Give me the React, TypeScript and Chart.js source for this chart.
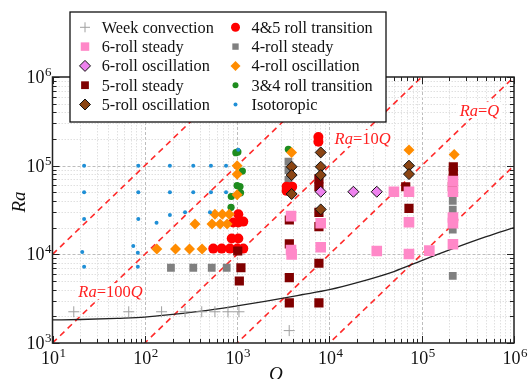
import React, { useEffect, useRef } from "react";
import { Chart, registerables } from "chart.js";

Chart.register(...registerables);

// ---------------- data ----------------
const weekQ = [17, 67, 152, 273, 414, 575, 796, 1047, 3670];
const weekRa = [2250, 2250, 2250, 2250, 2250, 2250, 2250, 2250, 1380];

const sixSteadyQ = [3840, 3840, 3900, 8050, 8050, 32600, 50000, 72800, 72800, 72800, 121000, 218000, 218000, 218000, 218000, 218000];
const sixSteadyRa = [27000, 11200, 10000, 22400, 12000, 10900, 50800, 50800, 23000, 10100, 11000, 67000, 51000, 26000, 22500, 13000];

const sixOscQ = [8050, 18200, 32600];
const sixOscRa = [50800, 50800, 50800];

const fiveSteadyQ = [1016, 1100, 1057, 3680, 3680, 3680, 3680, 7700, 7700, 7700, 7700, 7700, 7700, 67100, 72800, 220000, 220000, 220000, 215000];
const fiveSteadyRa = [10900, 7060, 5000, 24400, 13100, 5450, 2840, 71000, 57800, 29800, 20500, 7930, 2840, 57800, 33000, 97200, 84000, 72000, 58000];

const fiveOscQ = [3900, 3900, 3900, 8050, 8050, 8050, 8050, 72800, 72800];
const fiveOscRa = [97300, 78400, 47900, 141000, 97300, 78400, 32100, 100000, 80300];

const fourFiveQ = [552, 681, 838, 1005, 1167, 875, 1031, 908, 1031, 1167, 1031, 3440, 3950, 3440, 7600, 7600];
const fourFiveRa = [11600, 11600, 11600, 11600, 11600, 15100, 15100, 22900, 22900, 23400, 28300, 58000, 58000, 52000, 210000, 186000];

const fourSteadyQ = [192, 335, 531, 771, 3600, 3600, 3600, 217000, 217000, 217000, 217000, 217000];
const fourSteadyRa = [7060, 7060, 7060, 7060, 111000, 89000, 69000, 40000, 32000, 24400, 19000, 5700];

const fourOscQ = [135, 215, 305, 417, 350, 535, 655, 780, 575, 692, 822, 1000, 1000, 1000, 3890, 72800, 225000];
const fourOscRa = [11500, 11500, 11500, 11500, 22000, 22000, 22000, 22000, 28400, 28400, 28400, 100000, 80000, 47000, 141000, 150000, 134000];

const threeFourQ = [970, 1020, 1140, 1000, 1075, 865, 1090, 860, 3590];
const threeFourRa = [140000, 143000, 87000, 59700, 58200, 44900, 49400, 33900, 153000];

const isoQ = [22, 85, 187, 335, 521, 759, 22, 85, 187, 335, 521, 759, 22, 85, 134, 187, 273, 508, 75, 84, 21, 22, 84, 1030];
const isoRa = [100000, 100000, 100000, 100000, 100000, 100000, 50000, 50000, 50000, 50000, 50000, 50000, 25000, 25000, 22700, 27700, 29900, 29900, 12400, 10400, 10600, 7250, 7250, 151000];

const curveQ = [10, 20, 50, 100, 200, 500, 1000, 2000, 5000, 10000, 20000, 50000, 100000, 200000, 500000, 1000000];
const curveRa = [1820, 1840, 1900, 1960, 2100, 2350, 2620, 2950, 3500, 4000, 4800, 6400, 8500, 11200, 15800, 20000];

const refFactors = [1000, 100, 10, 1, 0.1];
const refLabelFactors = ["100", "10", ""];
const refLabelQ = [42.5, 22900, 423000];
const refLabelRa = [3850, 205000, 424000];

const xTickExponents = [1, 2, 3, 4, 5, 6];
const yTickExponents = [3, 4, 5, 6];
const minorMultipliers = [2, 3, 4, 5, 6, 7, 8, 9];

const X_MIN = 10, X_MAX = 1e6, Y_MIN = 1e3, Y_MAX = 1e6;

const FONT = '"Liberation Serif", "Times New Roman", serif';

type Series = {
  label: string; q: number[]; ra: number[];
  style: string; r: number; fill: string; stroke: string; lw: number; lr: number;
};

// first entry is drawn on top
const series: Series[] = [
  { label: "Isotoropic", q: isoQ, ra: isoRa, style: "circle", r: 2, fill: "#1f8fd6", stroke: "#1f8fd6", lw: 0, lr: 2 },
  { label: "6-roll oscillation", q: sixOscQ, ra: sixOscRa, style: "rectRot", r: 5.5, fill: "#ee82ee", stroke: "#111", lw: 1, lr: 5.5 },
  { label: "5-roll oscillation", q: fiveOscQ, ra: fiveOscRa, style: "rectRot", r: 5.5, fill: "#8b4513", stroke: "#111", lw: 1, lr: 5.5 },
  { label: "4-roll oscillation", q: fourOscQ, ra: fourOscRa, style: "rectRot", r: 5.5, fill: "#ff8c00", stroke: "#ff8c00", lw: 0, lr: 5 },
  { label: "3&4 roll transition", q: threeFourQ, ra: threeFourRa, style: "circle", r: 3.6, fill: "#1e8c1e", stroke: "#1e8c1e", lw: 0, lr: 3 },
  { label: "6-roll steady", q: sixSteadyQ, ra: sixSteadyRa, style: "rect", r: 7.5, fill: "#ff88c8", stroke: "#ff88c8", lw: 0, lr: 6 },
  { label: "5-roll steady", q: fiveSteadyQ, ra: fiveSteadyRa, style: "rect", r: 6.5, fill: "#800000", stroke: "#800000", lw: 0, lr: 5.5 },
  { label: "4&5 roll transition", q: fourFiveQ, ra: fourFiveRa, style: "circle", r: 5, fill: "#ff0000", stroke: "#ff0000", lw: 0, lr: 4.5 },
  { label: "4-roll steady", q: fourSteadyQ, ra: fourSteadyRa, style: "rect", r: 5.5, fill: "#808080", stroke: "#808080", lw: 0, lr: 4.5 },
  { label: "Week convection", q: weekQ, ra: weekRa, style: "cross", r: 5.5, fill: "#a0a0a0", stroke: "#a0a0a0", lw: 1, lr: 5 },
];

const legendCol1 = ["Week convection", "6-roll steady", "6-roll oscillation", "5-roll steady", "5-roll oscillation"];
const legendCol2 = ["4&5 roll transition", "4-roll steady", "4-roll oscillation", "3&4 roll transition", "Isotoropic"];

function drawMarker(ctx: CanvasRenderingContext2D, s: Series, x: number, y: number, r: number) {
  ctx.save();
  ctx.beginPath();
  if (s.style === "circle") ctx.arc(x, y, r, 0, Math.PI * 2);
  else if (s.style === "rect") {
    const h = r * Math.SQRT1_2;
    ctx.rect(x - h, y - h, 2 * h, 2 * h);
  } else if (s.style === "rectRot") {
    ctx.moveTo(x, y - r); ctx.lineTo(x + r, y); ctx.lineTo(x, y + r); ctx.lineTo(x - r, y); ctx.closePath();
  } else if (s.style === "cross") {
    ctx.moveTo(x - r, y); ctx.lineTo(x + r, y); ctx.moveTo(x, y - r); ctx.lineTo(x, y + r);
  }
  if (s.style !== "cross") { ctx.fillStyle = s.fill; ctx.fill(); }
  if (s.lw > 0) { ctx.strokeStyle = s.stroke; ctx.lineWidth = s.lw; ctx.stroke(); }
  ctx.restore();
}

function drawPow(ctx: CanvasRenderingContext2D, exp: number, x: number, baseY: number, align: "center" | "right") {
  ctx.font = `18px ${FONT}`;
  const w1 = ctx.measureText("10").width;
  ctx.font = `13px ${FONT}`;
  const w2 = ctx.measureText(String(exp)).width;
  const total = w1 + w2 + 0.5;
  const left = align === "center" ? x - total / 2 : x - total;
  ctx.textAlign = "left";
  ctx.textBaseline = "alphabetic";
  ctx.fillStyle = "#111";
  ctx.font = `18px ${FONT}`;
  ctx.fillText("10", left, baseY);
  ctx.font = `13px ${FONT}`;
  ctx.fillText(String(exp), left + w1 + 0.5, baseY - 7);
}

const gridPlugin = {
  id: "gridPlugin",
  beforeDatasetsDraw(chart: any) {
    const { ctx, chartArea: a, scales } = chart;
    const xs = scales.x, ys = scales.y;
    ctx.save();
    ctx.fillStyle = "#fff";
    ctx.fillRect(a.left, a.top, a.right - a.left, a.bottom - a.top);
    const line = (x1: number, y1: number, x2: number, y2: number, major: boolean) => {
      ctx.beginPath();
      ctx.setLineDash(major ? [3, 2] : [1.5, 1.5]);
      ctx.strokeStyle = major ? "#bdbdbd" : "#e0e0e0";
      ctx.lineWidth = 1;
      ctx.moveTo(x1, y1); ctx.lineTo(x2, y2); ctx.stroke();
    };
    xTickExponents.forEach((e) => {
      [1, ...minorMultipliers].forEach((m) => {
        const v = m * Math.pow(10, e);
        if (v <= X_MIN || v >= X_MAX) return;
        const px = Math.round(xs.getPixelForValue(v)) + 0.5;
        line(px, a.top, px, a.bottom, m === 1);
      });
    });
    yTickExponents.forEach((e) => {
      [1, ...minorMultipliers].forEach((m) => {
        const v = m * Math.pow(10, e);
        if (v <= Y_MIN || v >= Y_MAX) return;
        const py = Math.round(ys.getPixelForValue(v)) + 0.5;
        line(a.left, py, a.right, py, m === 1);
      });
    });
    ctx.restore();
  },
  afterDatasetsDraw(chart: any) {
    const { ctx, chartArea: a, scales } = chart;
    const xs = scales.x, ys = scales.y;
    ctx.save();
    ctx.setLineDash([]);

    // reference line labels
    refLabelQ.forEach((q, i) => {
      const cx = xs.getPixelForValue(q);
      const cy = ys.getPixelForValue(refLabelRa[i]);
      const parts: [string, boolean][] = [["Ra", true], ["=" + refLabelFactors[i], false], ["Q", true]];
      let w = 0;
      const widths = parts.map(([t, it]) => {
        ctx.font = `${it ? "italic " : ""}16.5px ${FONT}`;
        const m = ctx.measureText(t).width;
        w += m;
        return m;
      });
      let x = cx - w / 2;
      ctx.fillStyle = "#fff";
      ctx.fillRect(x - 2, cy - 8, w + 4, 16);
      ctx.fillStyle = "#ff2020";
      ctx.textBaseline = "alphabetic";
      ctx.textAlign = "left";
      parts.forEach(([t, it], k) => {
        ctx.font = `${it ? "italic " : ""}16.5px ${FONT}`;
        ctx.fillText(t, x, cy + 5.5);
        x += widths[k];
      });
    });

    // frame
    ctx.strokeStyle = "#222";
    ctx.lineWidth = 1.5;
    ctx.strokeRect(a.left, a.top, a.right - a.left, a.bottom - a.top);

    // tick marks (inward, all four sides)
    ctx.lineWidth = 1;
    ctx.strokeStyle = "#222";
    xTickExponents.forEach((e) => {
      [1, ...minorMultipliers].forEach((m) => {
        const v = m * Math.pow(10, e);
        if (v < X_MIN || v > X_MAX) return;
        const px = Math.round(xs.getPixelForValue(v)) + 0.5;
        const len = m === 1 ? 7 : 4;
        ctx.beginPath();
        ctx.moveTo(px, a.bottom); ctx.lineTo(px, a.bottom - len);
        ctx.moveTo(px, a.top); ctx.lineTo(px, a.top + len);
        ctx.stroke();
      });
    });
    yTickExponents.forEach((e) => {
      [1, ...minorMultipliers].forEach((m) => {
        const v = m * Math.pow(10, e);
        if (v < Y_MIN || v > Y_MAX) return;
        const py = Math.round(ys.getPixelForValue(v)) + 0.5;
        const len = m === 1 ? 7 : 4;
        ctx.beginPath();
        ctx.moveTo(a.left, py); ctx.lineTo(a.left + len, py);
        ctx.moveTo(a.right, py); ctx.lineTo(a.right - len, py);
        ctx.stroke();
      });
    });

    // tick labels
    xTickExponents.forEach((e) => {
      const px = xs.getPixelForValue(Math.pow(10, e));
      drawPow(ctx, e, px + 1, a.bottom + 20.5, "center");
    });
    yTickExponents.forEach((e) => {
      const py = ys.getPixelForValue(Math.pow(10, e));
      drawPow(ctx, e, a.left - 1, py + 6, "right");
    });

    // axis titles
    ctx.fillStyle = "#111";
    ctx.font = `italic 19px ${FONT}`;
    ctx.textAlign = "center";
    ctx.textBaseline = "alphabetic";
    ctx.save();
    ctx.translate(25, (a.top + a.bottom) / 2 - 8);
    ctx.rotate(-Math.PI / 2);
    ctx.fillText("Ra", 0, 0);
    ctx.restore();
    ctx.fillText("Q", (a.left + a.right) / 2 - 7.5, a.bottom + 36.5);

    // legend
    const L = 70, T = 12, R = 386, B = 122;
    ctx.fillStyle = "#fff";
    ctx.fillRect(L, T, R - L, B - T);
    ctx.strokeStyle = "#111";
    ctx.lineWidth = 1.3;
    ctx.strokeRect(L, T, R - L, B - T);
    const rowY = [27.3, 46.6, 65.9, 85.2, 104.5];
    const drawCol = (labels: string[], mx: number, tx: number) => {
      labels.forEach((lab, i) => {
        const s = series.find((d) => d.label === lab)!;
        drawMarker(ctx, s, mx, rowY[i], s.lr);
        ctx.fillStyle = "#111";
        ctx.font = `16.3px ${FONT}`;
        ctx.textAlign = "left";
        ctx.textBaseline = "alphabetic";
        ctx.fillText(lab, tx, rowY[i] + 5.5);
      });
    };
    drawCol(legendCol1, 85, 101.7);
    drawCol(legendCol2, 235.5, 251.5);

    ctx.restore();
  },
};

export default function App() {
  const ref = useRef<HTMLCanvasElement | null>(null);
  useEffect(() => {
    if (!ref.current) return;
    const datasets: any[] = series.map((s) => ({
      type: "scatter",
      label: s.label,
      data: s.q.map((q, i) => ({ x: q, y: s.ra[i] })),
      showLine: false,
      pointStyle: s.style,
      pointRadius: s.r,
      pointHoverRadius: s.r,
      pointBackgroundColor: s.fill,
      pointBorderColor: s.stroke,
      pointBorderWidth: s.lw,
      backgroundColor: s.fill,
      borderColor: s.stroke,
    }));
    datasets.push({
      type: "line",
      label: "critical",
      data: curveQ.map((q, i) => ({ x: q, y: curveRa[i] })),
      borderColor: "#222",
      borderWidth: 1.3,
      pointRadius: 0,
      tension: 0.3,
      cubicInterpolationMode: "monotone",
      clip: 0,
    });
    refFactors.forEach((k) => {
      datasets.push({
        type: "line",
        label: `Ra=${k}Q`,
        data: [{ x: X_MIN, y: X_MIN * k }, { x: X_MAX, y: X_MAX * k }],
        borderColor: "#ff2a2a",
        borderWidth: 1.6,
        borderDash: [6, 4.5],
        pointRadius: 0,
        tension: 0,
        clip: 0,
      });
    });
    const chart = new Chart(ref.current, {
      type: "scatter",
      data: { datasets },
      options: {
        animation: false,
        responsive: false,
        devicePixelRatio: 1,
        events: [],
        layout: { padding: { left: 52.5, right: 15, top: 77, bottom: 36 } },
        plugins: { legend: { display: false }, tooltip: { enabled: false } },
        scales: {
          x: { type: "logarithmic", min: X_MIN, max: X_MAX, display: false },
          y: { type: "logarithmic", min: Y_MIN, max: Y_MAX, display: false },
        },
      },
      plugins: [gridPlugin],
    } as any);
    return () => chart.destroy();
  }, []);
  return (
    <div style={{ position: "fixed", left: 0, top: 0, width: 529, height: 379, background: "#fff" }}>
      <canvas ref={ref} width={529} height={379} style={{ display: "block", width: 529, height: 379 }} />
    </div>
  );
}
